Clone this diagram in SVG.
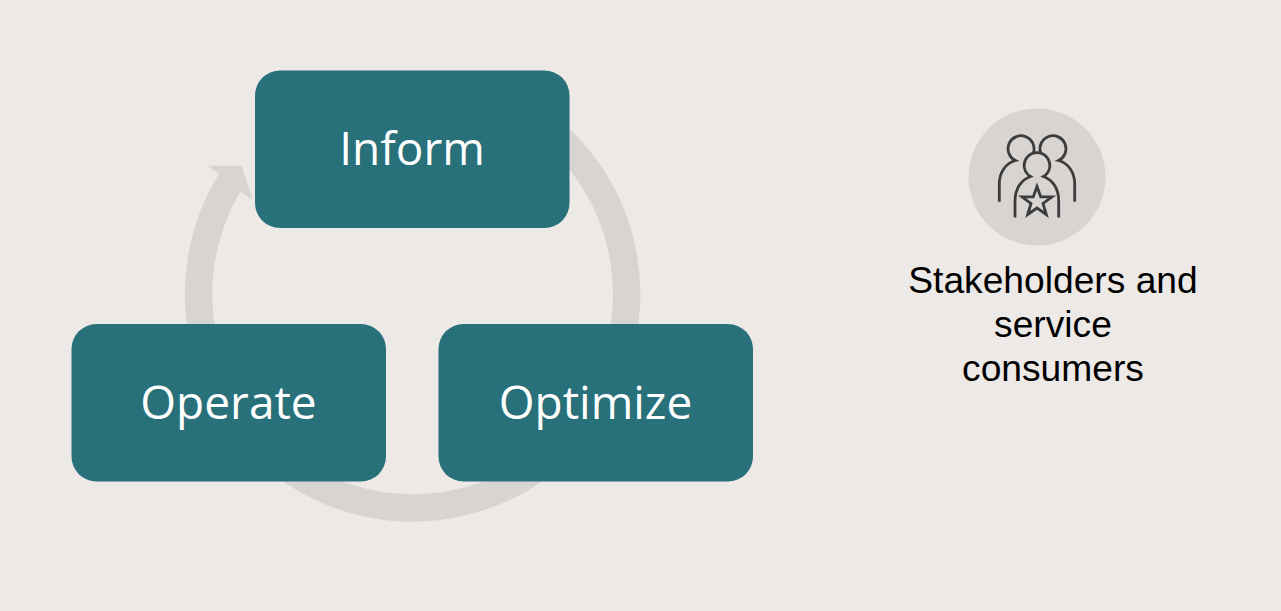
<svg xmlns="http://www.w3.org/2000/svg" width="1281" height="611" viewBox="0 0 1281 611">
<style>
.box{fill:#28707a}
.lbl{font-family:"Open Sans","Noto Sans",sans-serif;font-size:46px;fill:#fff;text-anchor:middle}
.cap{font-family:"Liberation Sans",Arial,sans-serif;font-size:37.200px;fill:#000;text-anchor:middle}
.ic{fill:none;stroke:#3c3c3c;stroke-width:2.800}
</style>
<rect width="1281" height="611" fill="#ede9e6"/>
<g id="connectors">
<path d="M234.700 175A214 214 0 1 0 530 115" fill="none" stroke="#d8d4d1" stroke-width="27.500"/>
<polygon points="207.300,165.700 241.700,165.700 252.700,200 240.700,191.700 219.300,174.300" fill="#d8d4d1"/>
</g>
<g id="inform"><rect class="box" x="255" y="70.500" width="314.500" height="157.500" rx="25"/><text class="lbl" x="412" y="165">Inform</text></g>
<g id="operate"><rect class="box" x="71.500" y="324" width="314.500" height="157.500" rx="25"/><text class="lbl" x="228.500" y="419">Operate</text></g>
<g id="optimize"><rect class="box" x="438.500" y="324" width="314.500" height="157.500" rx="25"/><text class="lbl" x="595.500" y="419">Optimize</text></g>
<g id="stakeholders">
<circle cx="1037" cy="177" r="68.500" fill="#d8d4d1"/>
<path class="ic" d="M999.300 201.700V184C999.300 172 1006 163 1015.500 160.500A13 13 0 1 1 1033.500 152.500"/>
<path class="ic" d="M1074.700 201.700V184C1074.700 172 1068 163 1058.500 160.500A13 13 0 1 0 1040.500 152.500"/>
<path class="ic" d="M1015 217.500V201C1015 189 1021 180 1030.500 176.500A12.800 12.800 0 1 1 1043.500 176.500C1053 180 1058.700 189 1058.700 201V217.500"/>
<polygon class="ic" points="1037,186.500 1040.700,196.800 1052,196.800 1043,203.500 1046.300,214.500 1037,208 1027.700,214.500 1031,203.500 1022,196.800 1033.300,196.800"/>
<text class="cap" x="1053" y="292.500">Stakeholders and</text>
<text class="cap" x="1053" y="336.500">service</text>
<text class="cap" x="1053" y="381">consumers</text>
</g>
</svg>
